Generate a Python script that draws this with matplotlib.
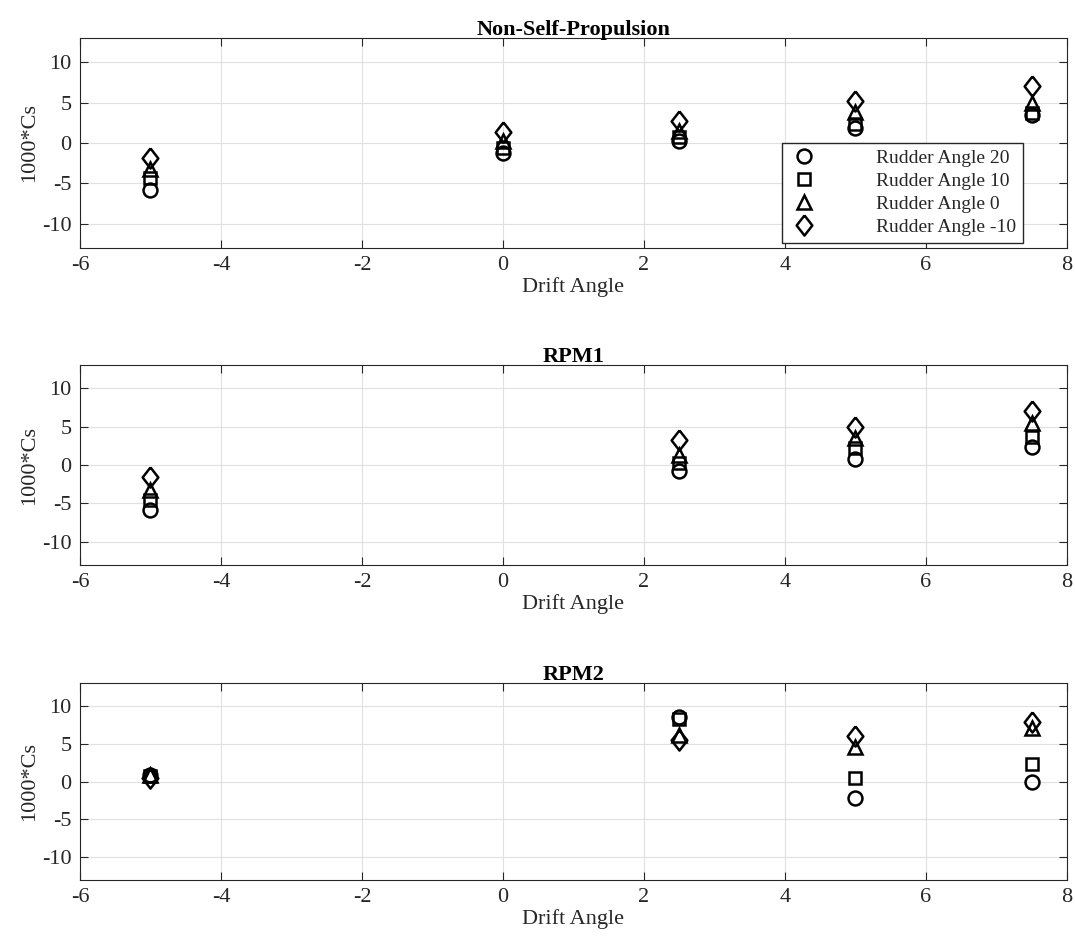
import matplotlib.pyplot as plt

plt.rcParams['font.family'] = ['Liberation Serif', 'DejaVu Serif']
plt.rcParams['axes.unicode_minus'] = False

titles = ["Non-Self-Propulsion", "RPM1", "RPM2"]
labels = ["Rudder Angle 20", "Rudder Angle 10", "Rudder Angle 0", "Rudder Angle -10"]

# drift angles for each panel
drift = [
    [-5, 0, 2.5, 5, 7.5],
    [-5, 2.5, 5, 7.5],
    [-5, 2.5, 5, 7.5],
]

# 1000*Cs, one list per rudder angle (20, 10, 0, -10)
nsp = [
    [-5.8, -1.3, 0.3, 1.8, 3.5],
    [-4.3, -0.6, 0.8, 2.3, 3.7],
    [-3.2, 0.2, 1.5, 3.8, 5.0],
    [-1.8, 1.4, 2.7, 5.2, 7.0],
]
rpm1 = [
    [-5.9, -0.8, 0.8, 2.4],
    [-4.6, 0.3, 2.2, 3.6],
    [-3.2, 1.3, 3.5, 5.4],
    [-1.6, 3.2, 5.0, 7.0],
]
rpm2 = [
    [0.8, 8.5, -2.2, -0.1],
    [0.7, 8.3, 0.5, 2.3],
    [0.9, 6.2, 4.5, 7.0],
    [0.5, 5.5, 6.0, 7.8],
]
data = [nsp, rpm1, rpm2]

# matlab style diamond, a bit taller than wide
diamond = [(0, 1), (0.78, 0), (0, -1), (-0.78, 0), (0, 1)]
markers = ["o", "s", "^", diamond]
sizes = [10, 8.5, 10, 14.5]

fig = plt.figure(figsize=(10.75, 9.49), dpi=100)
boxes = [[0.0744, 0.7387, 0.918, 0.2213],
         [0.0744, 0.4046, 0.918, 0.2108],
         [0.0744, 0.0727, 0.918, 0.2076]]

for k in range(3):
    ax = fig.add_axes(boxes[k])
    for j in range(4):
        ax.plot(drift[k], data[k][j], linestyle='none', marker=markers[j],
                markersize=sizes[j], markerfacecolor='none',
                markeredgecolor='black', markeredgewidth=1.8, label=labels[j])
    ax.set_xlim(-6, 8)
    ax.set_ylim(-13, 13)
    ax.set_yticks([-10, -5, 0, 5, 10])
    ax.set_xticks(range(-6, 9, 2))
    ax.grid(True, color='#e0e0e0', linewidth=0.8)
    ax.set_axisbelow(True)
    ax.tick_params(labelsize=16, colors='#262626', direction='in', length=6,
                   top=True, right=True, pad=6)
    for s in ax.spines.values():
        s.set_color('#262626')
    ax.set_title(titles[k], fontsize=16, fontweight='bold', pad=2)
    ax.set_xlabel("Drift Angle", fontsize=16, color='#262626', labelpad=1)
    ax.set_ylabel("1000*Cs", fontsize=16, color='#262626', labelpad=2)
    if k == 0:
        leg = ax.legend(loc='lower right', bbox_to_anchor=(0.956, 0.024),
                        borderaxespad=0, fontsize=14, fancybox=False,
                        framealpha=1, edgecolor='#262626', handletextpad=3.0,
                        labelspacing=0.28, borderpad=0.35, handlelength=1.5)
        leg.get_frame().set_linewidth(1.0)
        for t in leg.get_texts():
            t.set_color('#262626')

plt.savefig("out.png", dpi=100)
